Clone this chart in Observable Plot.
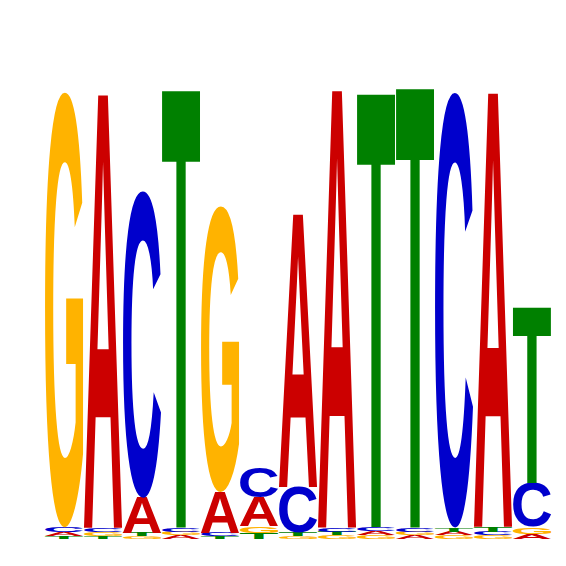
<!DOCTYPE html>
<html>
<head>
<meta charset="utf-8">
<script src="https://cdn.jsdelivr.net/npm/d3@7"></script>
<script src="https://cdn.jsdelivr.net/npm/@observablehq/plot@0.6"></script>
<style>
  html, body { margin: 0; padding: 0; background: #fff; }
</style>
</head>
<body>
<div id="chart"></div>
<script>
// letter heights (bits) per position
const positions = [1, 2, 3, 4, 5, 6, 7, 8, 9, 10, 11, 12, 13];
const letters = ["A", "C", "G", "T"];
const heightA = [0.019, 1.920, 0.156, 0.016, 0.182, 0.131, 1.209, 1.938, 0.018, 0.016, 0.017, 1.924, 0.022];
const heightC = [0.020, 0.019, 1.360, 0.018, 0.014, 0.132, 0.204, 0.018, 0.019, 0.018, 1.929, 0.017, 0.196];
const heightG = [1.929, 0.018, 0.013, 0.017, 1.267, 0.029, 0.013, 0.016, 0.016, 0.017, 0.016, 0.016, 0.031];
const heightT = [0.013, 0.013, 0.014, 1.938, 0.013, 0.027, 0.014, 0.017, 1.920, 1.947, 0.018, 0.021, 0.778];
const colors = {A: "#CC0000", C: "#0000CC", G: "#FFB300", T: "#008000"};

const heights = {A: heightA, C: heightC, G: heightG, T: heightT};

// stack each column, smallest letter at the bottom
const rows = [];
positions.forEach((pos, j) => {
  const col = letters.map(letter => ({pos, letter, h: heights[letter][j]}))
    .sort((a, b) => a.h - b.h);
  let y = 0;
  for (const d of col) {
    rows.push({...d, y1: y, y2: y + d.h});
    y += d.h;
  }
});

// ink box of each glyph, found by drawing it on a canvas and scanning pixels
const fontPx = 400;
const fontFamily = `"Liberation Sans", "Helvetica", "Arial", sans-serif`;
const glyphBox = (() => {
  const size = 600, ox = 100, oy = 500;
  const canvas = document.createElement("canvas");
  canvas.width = size; canvas.height = size;
  const c = canvas.getContext("2d", {willReadFrequently: true});
  const box = {};
  for (const ch of letters) {
    c.clearRect(0, 0, size, size);
    c.font = `bold ${fontPx}px ${fontFamily}`;
    c.textAlign = "left";
    c.textBaseline = "alphabetic";
    c.fillStyle = "#000";
    c.fillText(ch, ox, oy);
    const px = c.getImageData(0, 0, size, size).data;
    let x0 = size, x1 = -1, y0 = size, y1 = -1;
    for (let y = 0; y < size; y++) {
      for (let x = 0; x < size; x++) {
        if (px[(y * size + x) * 4 + 3] > 127) {
          if (x < x0) x0 = x;
          if (x > x1) x1 = x;
          if (y < y0) y0 = y;
          if (y > y1) y1 = y;
        }
      }
    }
    box[ch] = {left: ox - x0, width: x1 + 1 - x0, ascent: oy - y0, height: y1 + 1 - y0};
  }
  return box;
})();

const drawLetters = (index, scales) => {
  const g = d3.create("svg:g");
  const bw = scales.x.bandwidth();
  for (const i of index) {
    const d = rows[i];
    const b = glyphBox[d.letter];
    const x0 = scales.x(d.pos);
    const top = scales.y(d.y2);
    const bottom = scales.y(d.y1);
    const sx = bw / b.width;
    const sy = (bottom - top) / b.height;
    g.append("text")
      .attr("transform", `translate(${x0},${top}) scale(${sx},${sy}) translate(${b.left},${b.ascent})`)
      .attr("text-anchor", "start")
      .attr("dominant-baseline", "alphabetic")
      .attr("font-family", fontFamily)
      .attr("font-weight", "bold")
      .attr("font-size", fontPx)
      .attr("fill", colors[d.letter])
      .text(d.letter);
  }
  return g.node();
};

const chart = Plot.plot({
  width: 566,
  height: 566,
  marginTop: 89,
  marginBottom: 27,
  marginLeft: 41,
  marginRight: 11,
  x: {domain: positions, padding: 0.03, axis: null},
  y: {domain: [0, 2], axis: null},
  marks: [
    Plot.barY(rows, {x: "pos", y1: "y1", y2: "y2", fill: "letter", render: drawLetters})
  ]
});

document.getElementById("chart").append(chart);
</script>
</body>
</html>
